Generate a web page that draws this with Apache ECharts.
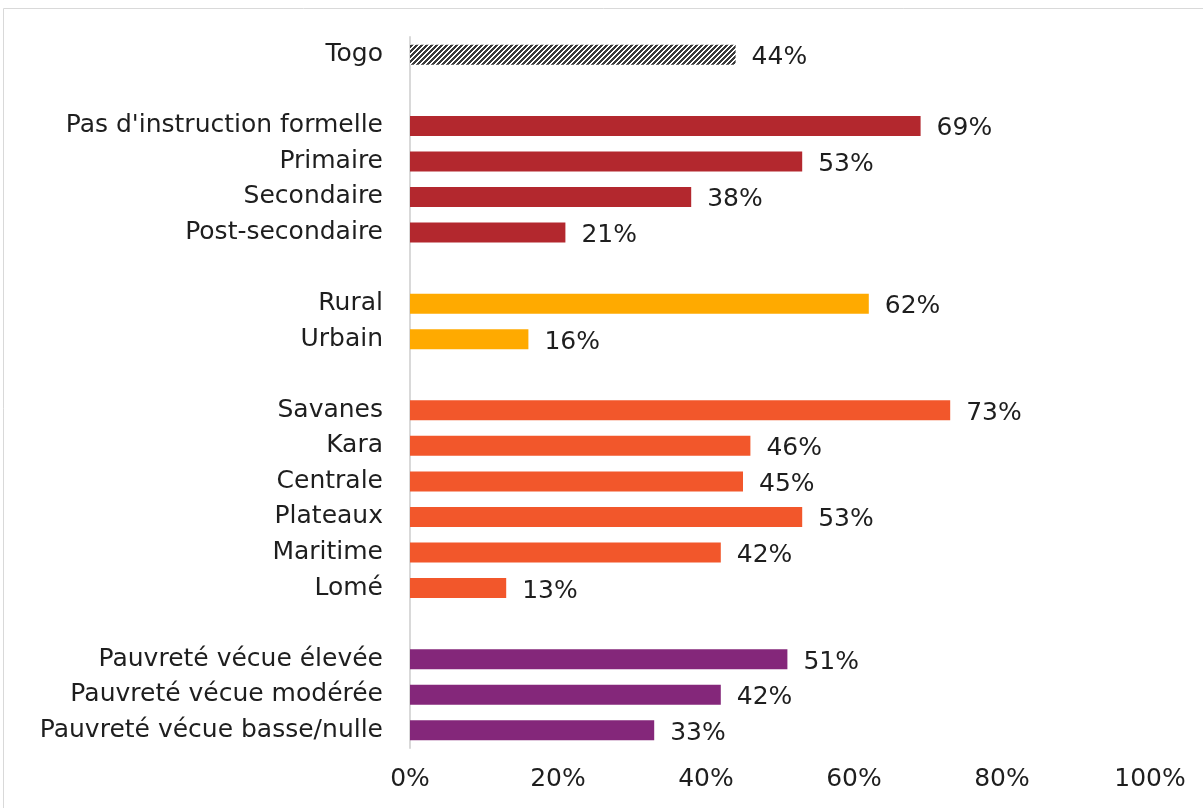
<!DOCTYPE html>
<html>
<head>
<meta charset="utf-8">
<script src="https://cdn.jsdelivr.net/npm/echarts@6/dist/echarts.min.js"></script>
<style>
    html, body { margin: 0; padding: 0; background: #fff; overflow: hidden; }
    #chart { width: 1203px; height: 808px; }
</style>
</head>
<body>
<div id="chart"></div>
<script>
// données par groupe (pourcentages)
const togo = ['Togo']
const togoVals = [44]
const education = ["Pas d'instruction formelle", 'Primaire', 'Secondaire', 'Post-secondaire']
const educationVals = [69, 53, 38, 21]
const milieu = ['Rural', 'Urbain']
const milieuVals = [62, 16]
const regions = ['Savanes', 'Kara', 'Centrale', 'Plateaux', 'Maritime', 'Lomé']
const regionVals = [73, 46, 45, 53, 42, 13]
const pauvrete = ['Pauvreté vécue élevée', 'Pauvreté vécue modérée', 'Pauvreté vécue basse/nulle']
const pauvreteVals = [51, 42, 33]
const xTicks = [0, 20, 40, 60, 80, 100]

// motif hachuré pour Togo
function hatch() {
    let n = 5
    let c = document.createElement('canvas')
    c.width = n
    c.height = n
    let ctx = c.getContext('2d')
    let img = ctx.createImageData(n, n)
    for (let y = 0; y < n; y++) {
        for (let x = 0; x < n; x++) {
            let i = (y * n + x) * 4
            let v = (x + y) % n < 3 ? 58 : 255
            img.data[i] = v
            img.data[i + 1] = v
            img.data[i + 2] = v
            img.data[i + 3] = 255
        }
    }
    ctx.putImageData(img, 0, 0)
    return { image: c, repeat: 'repeat' }
}

const groups = [
    { names: togo, vals: togoVals, color: hatch() },
    { names: education, vals: educationVals, color: '#B3282E' },
    { names: milieu, vals: milieuVals, color: '#FFAA00' },
    { names: regions, vals: regionVals, color: '#F2572B' },
    { names: pauvrete, vals: pauvreteVals, color: '#84277A' }
]

let categories = []
let data = []
groups.forEach((g, gi) => {
    if (gi > 0) {
        // ligne vide entre les groupes
        categories.push(' '.repeat(gi))
        data.push('-')
    }
    g.names.forEach((n, i) => {
        categories.push(n)
        data.push({ value: g.vals[i], itemStyle: { color: g.color } })
    })
})

const font = 'DejaVu Sans'
const textColor = '#1e1e1e'
const fs = 25

let mychart = echarts.init(document.getElementById('chart'), null, { renderer: 'canvas' })
mychart.setOption({
    animation: false,
    grid: { left: 410, right: 53, top: 37, bottom: 60, containLabel: false },
    xAxis: {
        type: 'value',
        min: xTicks[0],
        max: xTicks[xTicks.length - 1],
        interval: xTicks[1] - xTicks[0],
        axisLine: { show: false },
        axisTick: { show: false },
        splitLine: { show: false },
        axisLabel: {
            formatter: '{value}%',
            color: textColor,
            fontFamily: font,
            fontSize: fs,
            margin: 19
        }
    },
    yAxis: {
        type: 'category',
        inverse: true,
        data: categories,
        axisLine: { show: true, lineStyle: { color: '#D9D9D9', width: 2 } },
        axisTick: { show: false },
        axisLabel: {
            color: textColor,
            fontFamily: font,
            fontSize: fs,
            margin: 27
        }
    },
    series: [
        {
            type: 'bar',
            data: data,
            barWidth: 20,
            label: {
                show: true,
                position: 'right',
                distance: 16,
                formatter: '{c}%',
                color: textColor,
                fontFamily: font,
                fontSize: fs,
                offset: [0, 3]
            }
        }
    ],
    graphic: [
        {
            type: 'rect',
            shape: { x: 3.5, y: 8.5, width: 1300, height: 900 },
            style: { fill: 'none', stroke: '#D9D9D9', lineWidth: 1 },
            silent: true
        }
    ]
})
</script>
</body>
</html>
